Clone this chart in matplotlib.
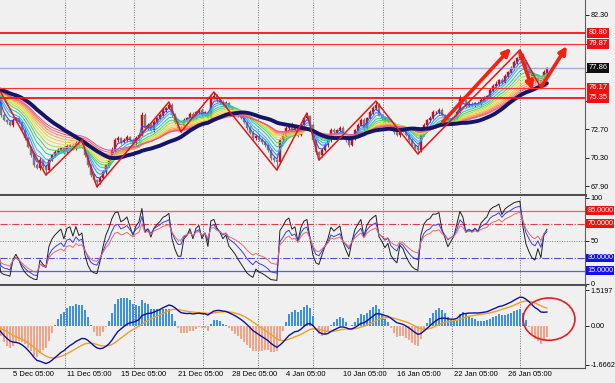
import numpy as np
import pandas as pd
import matplotlib
matplotlib.use('Agg')
import matplotlib.pyplot as plt
from matplotlib.patches import Ellipse

# closes of the bars before the first visible one (they only feed the averages)
warmup = [76.2, 76.0, 76.3, 76.5, 76.1, 75.9, 76.2, 76.4, 76.7, 76.3,
          76.1, 76.4, 76.6, 76.2, 75.9, 75.8, 76.0, 76.3, 76.1, 75.8,
          75.9, 76.2, 76.0, 75.7, 75.9, 76.1, 75.8, 75.7, 75.9, 75.6]

# visible bars
closes = [73.90, 73.48, 73.31, 73.06, 73.48, 73.64, 73.31, 72.64, 71.96, 71.21,
          70.54, 69.69, 69.44, 70.12, 69.61, 69.27, 70.12, 70.54, 70.79, 70.96,
          71.12, 70.79, 71.29, 71.38, 71.12, 71.54, 71.29, 71.38, 70.54, 69.69,
          68.85, 68.43, 68.27, 68.60, 69.11, 69.69, 70.12, 70.96, 71.80, 71.96,
          71.63, 71.80, 72.05, 71.80, 71.54, 71.96, 72.22, 73.90, 72.80, 73.06,
          72.64, 73.31, 73.64, 73.90, 74.32, 74.48, 74.74, 73.90, 73.31, 72.80,
          72.80, 73.48, 73.64, 73.98, 73.64, 74.15, 74.32, 73.90, 74.15, 73.64,
          75.33, 75.49, 75.16, 74.99, 74.74, 74.90, 74.48, 74.32, 74.15, 73.90,
          73.64, 73.31, 72.80, 72.38, 71.96, 72.13, 71.80, 71.63, 71.38, 70.96,
          70.28, 70.12, 69.95, 71.80, 72.22, 72.80, 73.06, 72.64, 72.80, 72.22,
          73.06, 73.64, 73.81, 73.06, 71.80, 70.79, 70.54, 70.96, 71.38, 71.80,
          72.64, 72.47, 72.64, 72.80, 72.22, 71.80, 71.38, 71.96, 72.64, 73.06,
          73.48, 72.80, 73.64, 74.15, 74.48, 74.74, 73.90, 73.64, 73.31, 73.48,
          72.80, 72.47, 72.22, 72.80, 72.64, 72.22, 71.80, 71.38, 71.12, 70.96,
          72.22, 73.06, 73.48, 73.64, 74.15, 74.15, 74.32, 73.90, 73.64, 73.31,
          73.48, 73.64, 74.15, 75.33, 75.16, 74.65, 74.82, 74.74, 74.90, 74.82,
          75.16, 75.33, 75.49, 76.00, 76.33, 76.50, 76.84, 76.67, 77.17, 77.51,
          77.85, 78.35, 78.69, 78.94, 78.35, 77.68, 77.26, 76.84, 76.67, 77.01,
          76.50, 77.51, 77.86]

# upper / lower shadow of each visible bar
wick_up = [.20, .15, .10, .20, .15, .10, .20, .10, .15, .10,
           .10, .15, .20, .25, .10, .15, .20, .10, .15, .20,
           .10, .20, .15, .10, .20, .15, .10, .42, .15, .10,
           .10, .15, .10, .20, .15, .10, .20, .25, .15, .20,
           .10, .15, .20, .10, .15, .20, .10, .25, .20, .15,
           .20, .15, .10, .20, .15, .10, .25, .20, .15, .10,
           .15, .20, .10, .15, .20, .10, .15, .20, .10, .15,
           .20, .34, .15, .10, .20, .15, .10, .15, .20, .10,
           .15, .20, .10, .15, .25, .10, .20, .15, .10, .15,
           .10, .15, .10, .20, .15, .20, .10, .25, .15, .20,
           .15, .20, .25, .10, .15, .10, .10, .15, .20, .10,
           .20, .15, .10, .20, .15, .10, .20, .15, .10, .20,
           .15, .20, .10, .15, .20, .33, .15, .10, .20, .15,
           .10, .20, .15, .10, .20, .15, .10, .15, .10, .15,
           .20, .15, .10, .20, .15, .10, .20, .15, .10, .15,
           .20, .10, .15, .25, .20, .10, .15, .20, .10, .15,
           .20, .15, .10, .20, .15, .25, .10, .20, .15, .10,
           .20, .15, .10, .42, .20, .15, .10, .20, .15, .10,
           .15, .20, .10]
wick_dn = [.15, .10, .20, .10, .15, .20, .10, .15, .20, .10,
           .15, .20, .10, .15, .20, .42, .15, .10, .20, .15,
           .10, .20, .15, .10, .20, .15, .10, .15, .20, .15,
           .20, .15, .42, .15, .10, .20, .15, .10, .20, .15,
           .15, .10, .20, .15, .10, .20, .15, .10, .20, .15,
           .10, .20, .15, .10, .20, .15, .10, .15, .20, .15,
           .33, .15, .10, .20, .15, .10, .20, .15, .10, .20,
           .15, .10, .20, .15, .10, .20, .15, .10, .15, .20,
           .10, .15, .20, .10, .15, .20, .10, .15, .20, .15,
           .20, .15, .68, .15, .10, .20, .15, .10, .20, .15,
           .10, .15, .10, .20, .15, .20, .43, .15, .10, .20,
           .15, .10, .20, .15, .10, .20, .15, .10, .20, .15,
           .10, .20, .15, .10, .20, .15, .10, .20, .15, .10,
           .20, .15, .10, .20, .15, .10, .20, .15, .10, .34,
           .15, .10, .20, .15, .10, .20, .15, .10, .20, .15,
           .10, .20, .15, .10, .20, .15, .10, .20, .15, .10,
           .15, .20, .10, .15, .20, .10, .15, .20, .10, .15,
           .10, .20, .15, .10, .20, .15, .10, .20, .15, .10,
           .33, .15, .10]

# zigzag turning points (bar index, price)
zz_bars = [0, 15, 27, 32, 56, 60, 71, 92, 102, 106, 125, 139, 173, 180]
zz_prices = [75.80, 68.85, 71.80, 67.85, 74.99, 72.47, 75.83, 69.27,
             74.06, 70.11, 75.07, 70.62, 79.36, 76.17]

# hand-drawn arrows (bar, price)
arrow_tails = [(147.3, 73.31), (173.0, 79.11), (180.3, 76.33)]
arrow_tips = [(170.0, 79.53), (177.3, 76.00), (188.7, 79.69)]

thick_levels = [80.80, 75.35]
thin_levels = [79.87, 76.17]
last_price = 77.86
price_ticks = [82.30, 79.90, 77.50, 75.10, 72.70, 70.30, 67.90]
price_tick_labels = ['82.30', '', '', '', '72.70', '70.30', '67.90']

ribbon_periods = [3, 5, 7, 10, 13, 16, 19, 22, 25, 28, 31, 34]
ribbon_colors = ['#2a4cf0', '#3d8bff', '#38b8e8', '#30c8a8', '#5ccf5c', '#a6dc48',
                 '#e6e040', '#f8c840', '#f8a848', '#f88868', '#f06878', '#e85888']
slow_period = 30

rsi_periods = [5, 9, 14]
rsi_colors = ['#202020', '#3c3ce0', '#e86a6a']

date_labels = ['5 Dec 05:00', '11 Dec 05:00', '15 Dec 05:00', '21 Dec 05:00',
               '28 Dec 05:00', '4 Jan 05:00', '10 Jan 05:00', '16 Jan 05:00',
               '22 Jan 05:00', '26 Jan 05:00']
date_bars = [4, 22, 40, 59, 77, 95, 114, 132, 151, 169]
grid_bars = [21.3, 44.3, 67.3, 85.7, 104, 127.3, 150.3, 173]

# ---------------------------------------------------------------- indicators
n0 = len(warmup)
allc = pd.Series(warmup + closes)
xall = np.arange(len(allc)) - n0
x = np.arange(len(closes))
c = np.array(closes)
o = allc.shift(1).to_numpy()[n0:]
hi = np.maximum(o, c) + np.array(wick_up)
lo = np.minimum(o, c) - np.array(wick_dn)


def rsi(s, n):
    d = s.diff()
    up = d.clip(lower=0).ewm(alpha=1 / n, adjust=False).mean()
    dn = (-d.clip(upper=0)).ewm(alpha=1 / n, adjust=False).mean()
    return 100 - 100 / (1 + up / dn)


macd = allc.ewm(span=12, adjust=False).mean() - allc.ewm(span=26, adjust=False).mean()
signal = macd.ewm(span=9, adjust=False).mean()
hist = 3 * (macd - signal)

# ---------------------------------------------------------------- figure
bg = '#f0f0f0'
fs = 5.2
plt.rcParams['font.family'] = ['Liberation Sans', 'DejaVu Sans']
fig = plt.figure(figsize=(6.15, 3.83), dpi=100, facecolor=bg)
W, H = 615, 383
ax = fig.add_axes([0, 1 - 195 / H, 585 / W, 195 / H], facecolor=bg)
ax2 = fig.add_axes([0, 1 - 285 / H, 585 / W, 89 / H], facecolor=bg)
ax3 = fig.add_axes([0, 1 - 368 / H, 585 / W, 82 / H], facecolor=bg)

for a in (ax, ax2, ax3):
    a.set_xlim(-0.3, 194.7)
    a.spines['left'].set_visible(False)
    a.spines['top'].set_visible(False)
    a.spines['right'].set_color('#606060')
    a.spines['bottom'].set_color('#505050')
    a.yaxis.tick_right()
    a.tick_params(axis='y', direction='out', length=3, width=0.6, pad=1.2,
                  labelsize=fs, colors='black')
    a.tick_params(axis='x', length=0)
    for g in grid_bars:
        a.axvline(g, color='#707070', ls=(0, (1, 1.5)), lw=0.7, zorder=1)
ax.spines['bottom'].set_linewidth(2.2)
ax2.spines['bottom'].set_linewidth(2.2)
ax3.spines['bottom'].set_linewidth(0.8)
ax.set_xticks([])
ax2.set_xticks([])

# ---- price panel
ax.set_ylim(83.56 - 195 / 11.9, 83.56)
bull = c >= o
col = np.where(bull, '#c81010', '#7a7a7a')
ax.vlines(x, lo, hi, colors=col, lw=0.7, zorder=2)
ax.bar(x, np.maximum(np.abs(c - o), 0.03), bottom=np.minimum(o, c), width=0.65,
       color=col, edgecolor=col, lw=0.3, zorder=2)

for p, cl in zip(ribbon_periods, ribbon_colors):
    ax.plot(xall, allc.ewm(span=p, adjust=False).mean(), color=cl, lw=0.75, zorder=3)
ax.plot(xall, allc.rolling(slow_period, min_periods=1).mean(), color='#14146a',
        lw=2.8, zorder=4, solid_capstyle='round')

for lv in thick_levels:
    ax.axhline(lv, color='#ff1010', lw=1.3, zorder=5)
for lv in thin_levels:
    ax.axhline(lv, color='#ff3030', lw=0.8, zorder=5)
ax.axhline(last_price, color='#a4acd4', lw=1.0, zorder=5)

ax.plot(zz_bars, zz_prices, color='#e01818', lw=1.1, zorder=6)
for t, h in zip(arrow_tails, arrow_tips):
    ax.annotate('', xy=h, xytext=t,
                arrowprops=dict(arrowstyle='-|>', color='#f52010', lw=2.6,
                                mutation_scale=11, shrinkA=0, shrinkB=0),
                zorder=7)

ax.set_yticks(price_ticks)
ax.set_yticklabels(price_tick_labels)
tr = ax.get_yaxis_transform()
for lv, fc in [(80.80, '#f01010'), (79.87, '#f01010'), (76.17, '#f01010'),
               (75.35, '#f01010'), (last_price, '#101010')]:
    ax.text(1.006, lv, f'{lv:.2f}', transform=tr, fontsize=fs + 0.3, color='white',
            va='center', ha='left', clip_on=False, zorder=10,
            bbox=dict(boxstyle='square,pad=0.18', fc=fc, ec='none'))

# ---- RSI panel
ax2.set_ylim(-1.6, 102.1)
for p, cl in zip(rsi_periods, rsi_colors):
    ax2.plot(xall, rsi(allc, p), color=cl, lw=0.7, zorder=4)
ax2.axhline(85, color='#f06060', lw=0.9, zorder=3)
ax2.axhline(70, color='#e04040', lw=0.8, ls='-.', zorder=3)
ax2.axhline(50, color='#808080', lw=0.7, ls=(0, (1, 1.5)), zorder=3)
ax2.axhline(30, color='#5050d0', lw=0.8, ls='-.', zorder=3)
ax2.axhline(15, color='#5060f0', lw=0.9, zorder=3)
ax2.set_yticks([100, 50, 0])
ax2.set_yticklabels(['100', '50', '0'])
tr2 = ax2.get_yaxis_transform()
for lv, fc in [(85, '#f01010'), (70, '#f01010'), (30, '#1010f0'), (15, '#1010f0')]:
    ax2.text(1.004, lv, f'{lv:.4f}', transform=tr2, fontsize=fs, color='white',
             va='center', ha='left', clip_on=False, zorder=10,
             bbox=dict(boxstyle='square,pad=0.12', fc=fc, ec='none'))

# ---- MACD panel
ax3.set_ylim(-1.80, 1.69)
hv = hist.to_numpy()[n0:]
ax3.bar(x, hv, width=0.6, color=np.where(hv >= 0, '#3c92e0', '#f6a286'), zorder=2)
ax3.plot(xall, signal, color='#f0a020', lw=1.0, zorder=3)
ax3.plot(xall, macd, color='#1010a0', lw=1.0, zorder=4)
ax3.add_patch(Ellipse((182.7, 0.28), 17.3, 1.80, fill=False, ec='#e02020', lw=1.2, zorder=6))
ax3.set_yticks([1.5197, 0, -1.6662])
ax3.set_yticklabels(['1.5197', '0.00', '-1.6662'])
ax3.set_xticks(date_bars)
ax3.set_xticklabels(date_labels, fontsize=fs + 0.3, ha='left')
ax3.tick_params(axis='x', pad=2)

fig.savefig('out.png', dpi=100, facecolor=bg)
